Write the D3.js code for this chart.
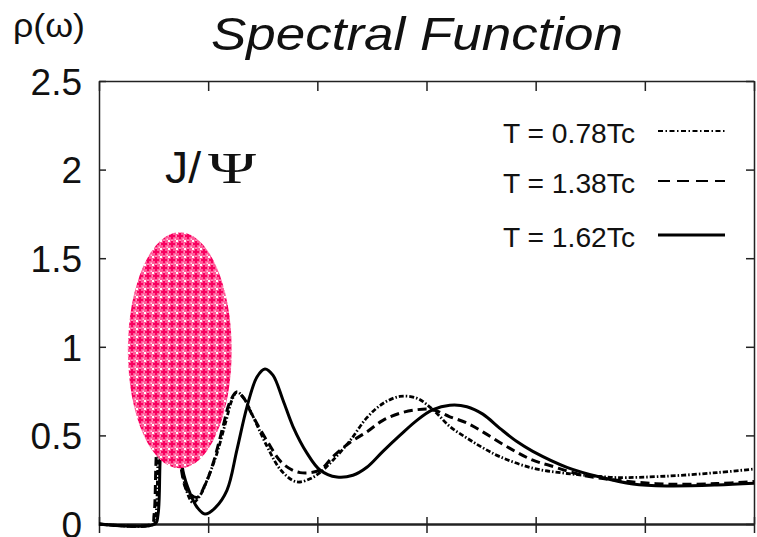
<!DOCTYPE html>
<html>
<head>
<meta charset="utf-8">
<script src="https://cdn.jsdelivr.net/npm/d3@7"></script>
<style>
  html, body { margin: 0; padding: 0; background: #fff; }
  svg { display: block; }
  text { font-family: "Liberation Sans", Arial, Helvetica, sans-serif; fill: #111; }
</style>
</head>
<body>
<svg id="chart" width="757" height="537"></svg>
<script>
// Spectral function rho(omega) at three temperatures
const seriesNames = ["T = 0.78Tc", "T = 1.38Tc", "T = 1.62Tc"];

// omega values (one array per temperature) and matching rho values
const omega078 = [0, 0.504, 0.522, 0.540, 0.568, 0.604, 0.641, 0.678, 0.723, 0.760, 0.806, 0.861, 0.925, 0.998, 1.081, 1.163, 1.218, 1.264, 1.328, 1.401, 1.538, 1.658, 1.777, 1.841, 1.932, 2.024, 2.143, 2.299, 2.454, 2.601, 2.756, 2.912, 3.059, 3.214, 3.370, 3.516, 3.672, 3.974, 4.286, 4.588, 4.744, 5.201, 5.659, 6.0];
const rho078   = [0, 0, 0.05, 0.35, 0.8, 1.2, 1.25, 1.0, 0.6, 0.32, 0.18, 0.12, 0.16, 0.26, 0.40, 0.58, 0.70, 0.745, 0.71, 0.62, 0.44, 0.31, 0.245, 0.237, 0.255, 0.29, 0.36, 0.47, 0.60, 0.68, 0.72, 0.71, 0.645, 0.55, 0.485, 0.43, 0.38, 0.315, 0.285, 0.268, 0.262, 0.27, 0.29, 0.31];

const omega138 = [0, 0.485, 0.504, 0.522, 0.549, 0.586, 0.623, 0.659, 0.705, 0.751, 0.806, 0.897, 0.971, 1.044, 1.136, 1.200, 1.264, 1.337, 1.383, 1.538, 1.685, 1.841, 2.024, 2.143, 2.299, 2.454, 2.601, 2.756, 2.912, 3.059, 3.214, 3.370, 3.516, 3.672, 3.828, 3.974, 4.130, 4.432, 4.771, 5.201, 5.659, 6.0];
const rho138   = [0, 0, 0.05, 0.35, 0.8, 1.25, 1.3, 1.05, 0.6, 0.32, 0.19, 0.15, 0.22, 0.34, 0.55, 0.69, 0.745, 0.70, 0.64, 0.47, 0.34, 0.29, 0.305, 0.38, 0.46, 0.52, 0.585, 0.625, 0.645, 0.645, 0.605, 0.57, 0.52, 0.46, 0.405, 0.36, 0.33, 0.275, 0.245, 0.225, 0.228, 0.24];

const omega162 = [0, 0.513, 0.540, 0.559, 0.586, 0.623, 0.659, 0.696, 0.733, 0.769, 0.833, 0.897, 0.971, 1.062, 1.172, 1.264, 1.355, 1.447, 1.520, 1.593, 1.685, 1.777, 1.905, 2.024, 2.179, 2.326, 2.454, 2.601, 2.756, 2.912, 3.059, 3.214, 3.370, 3.516, 3.672, 3.828, 3.974, 4.286, 4.588, 4.890, 5.201, 5.659, 6.0];
const rho162   = [0, 0, 0.05, 0.35, 0.8, 1.25, 1.35, 1.1, 0.6, 0.30, 0.175, 0.096, 0.056, 0.09, 0.19, 0.42, 0.66, 0.83, 0.875, 0.84, 0.70, 0.55, 0.40, 0.305, 0.265, 0.275, 0.32, 0.41, 0.50, 0.585, 0.645, 0.67, 0.662, 0.62, 0.54, 0.465, 0.41, 0.32, 0.265, 0.226, 0.215, 0.22, 0.23];

const yTicks = [0, 0.5, 1, 1.5, 2, 2.5];
const yTickLabels = ["0", "0.5", "1", "1.5", "2", "2.5"];
const xTicks = [0, 1, 2, 3, 4, 5, 6];

// J/psi resonance region, in data units
const jpsiCenter = [0.74, 0.98];
const jpsiRadius = [0.476, 0.666];

const svg = d3.select("#chart");
const W = 757, H = 537;
const m = { left: 99, right: 3, top: 81, bottom: 13 };

const x = d3.scaleLinear().domain([0, 6]).range([m.left, W - m.right]);
const y = d3.scaleLinear().domain([0, 2.5]).range([H - m.bottom, m.top]);

// fill pattern for the resonance blob
const defs = svg.append("defs");
const pat = defs.append("pattern")
  .attr("id", "pinkDots").attr("patternUnits", "userSpaceOnUse")
  .attr("width", 8).attr("height", 8);
pat.append("rect").attr("width", 8).attr("height", 8).attr("fill", "#ff5a98");
pat.append("rect").attr("x", 3).attr("y", 1).attr("width", 2).attr("height", 6).attr("fill", "#f8005f");
pat.append("rect").attr("x", 1).attr("y", 3).attr("width", 6).attr("height", 2).attr("fill", "#f8005f");
pat.append("rect").attr("x", 0).attr("y", 0).attr("width", 2).attr("height", 2).attr("fill", "#ffffff");
pat.append("rect").attr("x", 6.5).attr("y", 6.5).attr("width", 1.5).attr("height", 1.5).attr("fill", "#ffd0e2");
pat.append("rect").attr("x", 0).attr("y", 3.5).attr("width", 1).attr("height", 1).attr("fill", "#ffc0d8");
pat.append("rect").attr("x", 3.5).attr("y", 0).attr("width", 1).attr("height", 1).attr("fill", "#ffc0d8");

// axes: left with labels, others as inward ticks forming a box
const gLeft = svg.append("g").attr("transform", `translate(${m.left},0)`)
  .call(d3.axisLeft(y).tickValues(yTicks).tickFormat((d, i) => yTickLabels[i])
    .tickSizeInner(-7).tickSizeOuter(0).tickPadding(17));
gLeft.selectAll("text").attr("font-size", 37).attr("dy", "0.36em")
  .style("font-family", "'Liberation Sans', Arial, sans-serif").attr("fill", "#111");

const gRight = svg.append("g").attr("transform", `translate(${W - m.right},0)`)
  .call(d3.axisRight(y).tickValues(yTicks).tickFormat("").tickSizeInner(-8).tickSizeOuter(0));
const gTop = svg.append("g").attr("transform", `translate(0,${m.top})`)
  .call(d3.axisTop(x).tickValues(xTicks).tickFormat("").tickSizeInner(-10).tickSizeOuter(0));
const gBottom = svg.append("g").attr("transform", `translate(0,${H - m.bottom})`)
  .call(d3.axisBottom(x).tickValues(xTicks).tickFormat("").tickSizeInner(9).tickSizeOuter(0));
gBottom.selectAll(".tick line").attr("y1", -7);

[gLeft, gRight, gTop, gBottom].forEach(g => {
  g.select(".domain").attr("stroke", "#222").attr("stroke-width", 1.5);
  g.selectAll(".tick line").attr("stroke", "#222").attr("stroke-width", 1.5);
});
gBottom.select(".domain").attr("stroke-width", 2.5);

// curves
const line = d3.line().x(d => x(d[0])).y(d => y(d[1])).curve(d3.curveCatmullRom.alpha(0.5));
const series = [
  { name: seriesNames[0], pts: d3.zip(omega078, rho078), dash: "5,2,1.5,2", width: 2.8 },
  { name: seriesNames[1], pts: d3.zip(omega138, rho138), dash: "9,5", width: 3 },
  { name: seriesNames[2], pts: d3.zip(omega162, rho162), dash: null, width: 3 }
];
const plot = svg.append("g");
series.forEach(s => {
  plot.append("path").datum(s.pts).attr("d", line)
    .attr("fill", "none").attr("stroke", "#000")
    .attr("stroke-width", s.width)
    .attr("stroke-dasharray", s.dash)
    .attr("stroke-linejoin", "round");
});

// J/psi region
svg.append("ellipse")
  .attr("cx", x(jpsiCenter[0])).attr("cy", y(jpsiCenter[1]))
  .attr("rx", x(jpsiRadius[0]) - x(0)).attr("ry", y(0) - y(jpsiRadius[1]))
  .attr("fill", "url(#pinkDots)");

svg.append("text").attr("x", 165).attr("y", 183).attr("font-size", 45)
  .attr("textLength", 36).attr("lengthAdjust", "spacingAndGlyphs").text("J/");
svg.append("text").attr("x", 208).attr("y", 183).attr("font-size", 44)
  .style("font-family", "'Liberation Serif', 'DejaVu Serif', serif")
  .attr("textLength", 48).attr("lengthAdjust", "spacingAndGlyphs").text("Ψ");

// title and axis name
svg.append("text").attr("x", 211).attr("y", 50).attr("font-size", 46)
  .attr("font-style", "italic")
  .attr("textLength", 412).attr("lengthAdjust", "spacingAndGlyphs")
  .text("Spectral Function");
svg.append("text").attr("x", 13).attr("y", 37).attr("font-size", 34)
  .attr("textLength", 72).attr("lengthAdjust", "spacingAndGlyphs")
  .text("ρ(ω)");

// legend
const legendRows = [131, 181, 235];
const legendLineWidths = [2, 2, 3];
const legendDash = ["5,2.5,1.5,2.5", "12,7", null];
series.forEach((s, i) => {
  svg.append("text").attr("x", 503).attr("y", legendRows[i] + 12).attr("font-size", 28)
    .attr("textLength", 132).attr("lengthAdjust", "spacingAndGlyphs").text(s.name);
  svg.append("line").attr("x1", 658).attr("x2", 725)
    .attr("y1", legendRows[i]).attr("y2", legendRows[i])
    .attr("stroke", "#000").attr("stroke-width", legendLineWidths[i])
    .attr("stroke-dasharray", legendDash[i]);
});
</script>
</body>
</html>
